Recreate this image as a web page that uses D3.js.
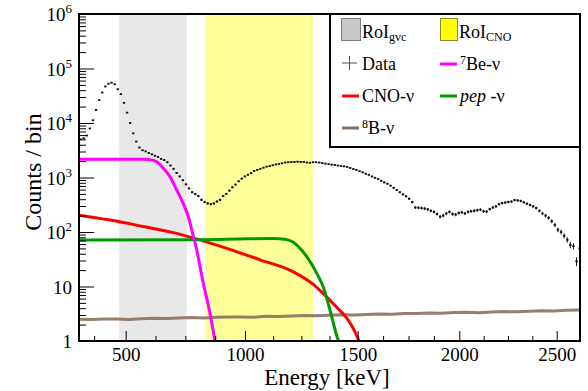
<!DOCTYPE html>
<html>
<head>
<meta charset="utf-8">
<script src="https://cdn.jsdelivr.net/npm/d3@7"></script>
<style>
  body { margin: 0; background: #fff; }
  svg { display: block; }
  svg text, svg tspan { font-family: "Liberation Serif", "Times New Roman", serif; fill: #000; }
</style>
</head>
<body>
<svg id="chart" width="588" height="391" font-family="Liberation Serif, serif"></svg>
<script>
// Energy calibration: visible energy (keV) -> normalized hits Nh
const calibEnergy = [315, 500, 1000, 1500, 2000, 2500, 2620];
const calibNh = [150, 243.4, 482, 707.4, 910.6, 1105.4, 1152];
const nhRange = [150, 1152];

// Axis ticks
const majorTickEnergies = [500, 1000, 1500, 2000, 2500];
const minorTickEnergies = [375, 625, 750, 875, 1125, 1250, 1375, 1625, 1750, 1875, 2125, 2250, 2375];
const yDecades = [0, 1, 2, 3, 4, 5, 6];

// Regions of interest (keV)
const roiGvc = [474, 756];
const roiCno = [834, 1303];

// Data histogram, uniform bins in Nh
const dataBinStart = 150;
const dataBinWidth = 6.2;
const dataCounts = [
  5012, 5248, 5888, 7943, 11220, 17378, 26303, 36308, 46774, 52481,
  54954, 51286, 41687, 33884, 23442, 15488, 10000, 6457, 4571, 3548,
  3162, 3020, 2818, 2661, 2512, 2371, 2188, 2089, 1905, 1660,
  1445, 1216, 1047, 891, 750, 631, 537, 495, 457, 389,
  355, 335, 324, 335, 363, 389, 457, 501, 575, 661,
  741, 851, 955, 1047, 1122, 1202, 1318, 1380, 1445, 1514,
  1585, 1622, 1679, 1738, 1778, 1820, 1884, 1905, 1928, 1928,
  1950, 1928, 1928, 1884, 1862, 1905, 1905, 1884, 1841, 1799,
  1758, 1718, 1690, 1660, 1622, 1603, 1567, 1496, 1429, 1380,
  1303, 1245, 1175, 1122, 1047, 989, 933, 871, 813, 767,
  708, 646, 589, 537, 490, 452, 407, 355, 282, 279,
  275, 269, 260, 245, 234, 214, 191, 200, 219, 234,
  214, 209, 224, 229, 219, 234, 240, 245, 251, 257,
  240, 237, 263, 282, 295, 324, 339, 347, 355, 363,
  385, 380, 372, 351, 331, 313, 295, 275, 245, 219,
  200, 182, 158, 135, 110, 100, 85, 72, 58, 55,
  29, 50
];

// Fitted spectral components: [Nh, counts per bin]
const be7Nu = [
  [150, 2170], [280, 2170], [292, 2120], [305.4, 1950], [318.6, 1479],
  [332, 1035], [345.4, 589], [358.6, 331], [370.6, 166], [375.4, 110],
  [385.4, 46.8], [398.6, 11.5], [410.6, 3.7], [422, 1.0], [428, 0.5]
];
const cnoNu = [
  [150, 204], [212, 166], [278.6, 126], [345.4, 94.4], [392, 71.6],
  [445.4, 50.1], [512, 30.9], [578.6, 18.6], [618.6, 10.9], [638.6, 7.4],
  [665.4, 4.17], [685.4, 2.63], [698.6, 1.70], [710, 1.0], [716, 0.71]
];
const pepNu = [
  [150, 71.3], [392, 72.4], [485.4, 75], [538.6, 75.9], [552, 75],
  [565.4, 72.4], [578.6, 64.6], [592, 50.1], [605.4, 35.5], [618.6, 22.9],
  [628, 15.8], [638.6, 9.8], [652, 3.7], [665.4, 1.26], [669, 1.0], [674, 0.7]
];
const b8Nu = [
  [150, 2.50], [175, 2.47], [200, 2.54], [225, 2.52], [250, 2.49], [275, 2.57],
  [300, 2.61], [325, 2.58], [350, 2.63], [375, 2.69], [400, 2.64], [425, 2.72],
  [450, 2.75], [475, 2.77], [500, 2.74], [525, 2.84], [550, 2.82], [575, 2.88],
  [600, 2.93], [625, 2.90], [650, 2.98], [675, 3.04], [700, 3.01], [725, 3.06],
  [750, 3.13], [775, 3.10], [800, 3.18], [825, 3.21], [850, 3.25], [875, 3.22],
  [900, 3.33], [925, 3.36], [950, 3.31], [975, 3.42], [1000, 3.46], [1025, 3.44],
  [1050, 3.53], [1075, 3.58], [1100, 3.55], [1125, 3.66], [1150, 3.72]
];

const colors = {
  gvc: "#e8e8e8", cno: "#ffff99",
  be7: "#ff00ff", cnoNu: "#ff0000", pep: "#009900", b8: "#8c7060",
  data: "#111"
};
const serif = "Liberation Serif, Times New Roman, serif";

const frame = { left: 79, right: 580, top: 14, bottom: 341 };
const svg = d3.select("#chart");

const x = d3.scaleLinear().domain(nhRange).range([frame.left, frame.right]);
const xEnergy = d3.scaleLinear().domain(calibEnergy).range(calibNh.map(v => x(v)));
const y = d3.scaleLog().domain([1, 1e6]).range([frame.bottom, frame.top]);

svg.append("defs").append("clipPath").attr("id", "plot-clip")
  .append("rect")
  .attr("x", frame.left).attr("y", frame.top)
  .attr("width", frame.right - frame.left).attr("height", frame.bottom - frame.top);

// Regions of interest
[[roiGvc, colors.gvc], [roiCno, colors.cno]].forEach(([r, c]) => {
  svg.append("rect")
    .attr("x", xEnergy(r[0])).attr("y", frame.top)
    .attr("width", xEnergy(r[1]) - xEnergy(r[0]))
    .attr("height", frame.bottom - frame.top)
    .attr("fill", c);
});

// Spectral components
const plot = svg.append("g").attr("clip-path", "url(#plot-clip)");
const smooth = d3.line().x(d => x(d[0])).y(d => y(d[1])).curve(d3.curveMonotoneX);
const jagged = d3.line().x(d => x(d[0])).y(d => y(d[1]));

plot.append("path").datum(b8Nu).attr("d", jagged)
  .attr("fill", "none").attr("stroke", colors.b8).attr("stroke-width", 3).attr("stroke-opacity", 0.9);
plot.append("path").datum(cnoNu).attr("d", smooth)
  .attr("fill", "none").attr("stroke", colors.cnoNu).attr("stroke-width", 3);
plot.append("path").datum(pepNu).attr("d", smooth)
  .attr("fill", "none").attr("stroke", colors.pep).attr("stroke-width", 3);
plot.append("path").datum(be7Nu).attr("d", smooth)
  .attr("fill", "none").attr("stroke", colors.be7).attr("stroke-width", 3);

// Data points with statistical error bars
const points = dataCounts.map((c, i) => ({ nh: dataBinStart + (i + 0.5) * dataBinWidth, c }));
const dataG = plot.append("g");
dataG.selectAll("line").data(points).join("line")
  .attr("x1", d => x(d.nh)).attr("x2", d => x(d.nh))
  .attr("y1", d => y(d.c + Math.sqrt(d.c))).attr("y2", d => y(Math.max(d.c - Math.sqrt(d.c), 1)))
  .attr("stroke", colors.data).attr("stroke-width", 1);
dataG.selectAll("rect").data(points).join("rect")
  .attr("x", d => x(d.nh) - 1.2).attr("y", d => y(d.c) - 0.9)
  .attr("width", 2.4).attr("height", 1.8)
  .attr("fill", colors.data);

// Axes ticks
const xMajor = d3.axisBottom(xEnergy).tickValues(majorTickEnergies).tickSize(-10).tickPadding(7)
  .tickFormat(d3.format("d"));
const xMinor = d3.axisBottom(xEnergy).tickValues(minorTickEnergies).tickSize(-5).tickFormat("");
const gxMajor = svg.append("g").attr("transform", `translate(0,${frame.bottom})`).call(xMajor);
const gxMinor = svg.append("g").attr("transform", `translate(0,${frame.bottom})`).call(xMinor);
[gxMajor, gxMinor].forEach(g => {
  g.attr("font-family", serif).attr("font-size", 19);
  g.select(".domain").remove();
  g.selectAll("line").attr("stroke", "#000").attr("stroke-width", 1);
});
gxMajor.selectAll("text").attr("font-size", 19).attr("font-family", serif).attr("fill", "#000");

const yMinorValues = [];
yDecades.slice(0, -1).forEach(k => { for (let m = 2; m <= 9; m++) yMinorValues.push(m * Math.pow(10, k)); });
const yMajorAxis = d3.axisLeft(y).tickValues(yDecades.map(k => Math.pow(10, k))).tickSize(-15).tickFormat("");
const yMinorAxis = d3.axisLeft(y).tickValues(yMinorValues).tickSize(-7).tickFormat("");
[yMajorAxis, yMinorAxis].forEach(ax => {
  const g = svg.append("g").attr("transform", `translate(${frame.left},0)`).call(ax);
  g.select(".domain").remove();
  g.selectAll("line").attr("stroke", "#000").attr("stroke-width", 1);
});

// Y tick labels: 1, 10, 10^n
const yLabels = svg.append("g").attr("font-size", 19).attr("font-family", serif);
yDecades.forEach(k => {
  const t = yLabels.append("text")
    .attr("x", 72).attr("y", y(Math.pow(10, k)) + 7)
    .attr("text-anchor", "end");
  if (k === 0) t.text("1");
  else if (k === 1) t.text("10");
  else {
    t.append("tspan").text("10");
    t.append("tspan").attr("font-size", 13).attr("dy", -8).text(String(k));
  }
});

// Frame
svg.append("rect")
  .attr("x", frame.left).attr("y", frame.top)
  .attr("width", frame.right - frame.left).attr("height", frame.bottom - frame.top)
  .attr("fill", "none").attr("stroke", "#000").attr("stroke-width", 2);

// Axis titles
svg.append("text").attr("x", 327).attr("y", 385).attr("text-anchor", "middle")
  .attr("font-family", serif).attr("font-size", 23).text("Energy [keV]");
svg.append("text").attr("transform", "translate(41,172) rotate(-90)").attr("text-anchor", "middle")
  .attr("font-family", serif).attr("font-size", 24).text("Counts / bin");

// Legend
const lg = svg.append("g").attr("font-size", 18).attr("font-family", serif);
lg.append("rect").attr("x", 330).attr("y", 14).attr("width", 250).attr("height", 133)
  .attr("fill", "#fff").attr("stroke", "#000").attr("stroke-width", 2);

lg.append("rect").attr("x", 341.5).attr("y", 18.5).attr("width", 19).attr("height", 22)
  .attr("fill", "#c8c8c8").attr("stroke", "#7a7a7a").attr("stroke-width", 1);
const tGvc = lg.append("text").attr("x", 362).attr("y", 37.5);
tGvc.append("tspan").text("RoI");
tGvc.append("tspan").attr("font-size", 12).attr("dy", 3).text("gvc");

lg.append("rect").attr("x", 440.5).attr("y", 18.5).attr("width", 17).attr("height", 22)
  .attr("fill", "#ffff00").attr("stroke", "#8a8a30").attr("stroke-width", 1);
const tCno = lg.append("text").attr("x", 459).attr("y", 37.5);
tCno.append("tspan").text("RoI");
tCno.append("tspan").attr("font-size", 12).attr("dy", 3).text("CNO");

// Data marker entry
lg.append("line").attr("x1", 342).attr("x2", 357).attr("y1", 63).attr("y2", 63).attr("stroke", "#555").attr("stroke-width", 1);
lg.append("line").attr("x1", 349.5).attr("x2", 349.5).attr("y1", 56).attr("y2", 70).attr("stroke", "#555").attr("stroke-width", 1);
lg.append("text").attr("x", 362).attr("y", 69.5).text("Data");

const lineEntries = [
  { x: 440, yy: 64, color: colors.be7, sup: "7", label: "Be-ν" },
  { x: 342, yy: 96, color: colors.cnoNu, label: "CNO-ν" },
  { x: 440, yy: 96, color: colors.pep, italic: "pep", label: " -ν" },
  { x: 342, yy: 128, color: colors.b8, sup: "8", label: "B-ν" }
];
lineEntries.forEach(e => {
  lg.append("line").attr("x1", e.x).attr("x2", e.x + 17).attr("y1", e.yy).attr("y2", e.yy)
    .attr("stroke", e.color).attr("stroke-width", 3);
  const t = lg.append("text").attr("x", e.x + 20).attr("y", e.yy + 6);
  if (e.sup) {
    t.append("tspan").attr("font-size", 12).attr("dy", -6).text(e.sup);
    t.append("tspan").attr("dy", 6).text(e.label);
  } else if (e.italic) {
    t.append("tspan").attr("font-style", "italic").text(e.italic);
    t.append("tspan").text(e.label);
  } else {
    t.text(e.label);
  }
});
</script>
</body>
</html>
